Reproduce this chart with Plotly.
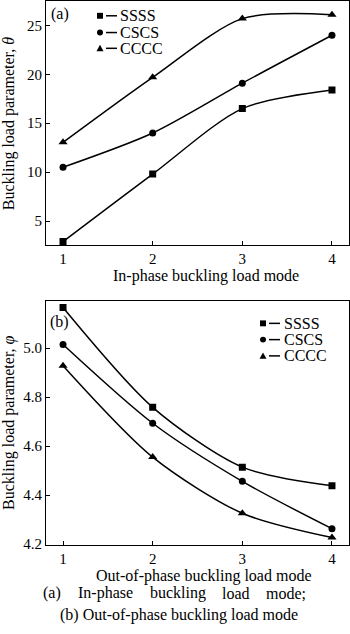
import plotly.graph_objects as go

# Buckling load parameters for each boundary condition
modes = [1, 2, 3, 4]
inphase_ssss = [2.9, 9.8, 16.5, 18.4]
inphase_cscs = [10.5, 14.0, 19.1, 24.0]
inphase_cccc = [13.05, 19.7, 25.7, 26.1]

outphase_ssss = [5.165, 4.758, 4.514, 4.438]
outphase_cscs = [5.014, 4.693, 4.456, 4.263]
outphase_cccc = [4.928, 4.555, 4.326, 4.227]

series_names = ["SSSS", "CSCS", "CCCC"]
symbols = ["square", "circle", "triangle-up"]

W, H = 350, 634
ML, MR = 46, 1
FONT = "Liberation Serif"


def px(x):
    return (x - ML) / (W - ML - MR)


def py(y):
    return 1 - y / H


fig = go.Figure()

top = [inphase_ssss, inphase_cscs, inphase_cccc]
bot = [outphase_ssss, outphase_cscs, outphase_cccc]
msize = [7, 7, 8]

for vals, name, sym, ms in zip(top, series_names, symbols, msize):
    fig.add_trace(go.Scatter(
        x=modes, y=vals, name=name, mode="lines+markers",
        line=dict(color="black", width=1.5, shape="spline", smoothing=0.8),
        marker=dict(symbol=sym, size=ms, color="black"),
        xaxis="x", yaxis="y", showlegend=False))

for vals, name, sym, ms in zip(bot, series_names, symbols, msize):
    fig.add_trace(go.Scatter(
        x=modes, y=vals, name=name, mode="lines+markers",
        line=dict(color="black", width=1.5, shape="spline", smoothing=0.8),
        marker=dict(symbol=sym, size=ms, color="black"),
        xaxis="x2", yaxis="y2", showlegend=False))

axis_common = dict(
    showline=True, linecolor="black", linewidth=1, mirror=True,
    ticks="inside", ticklen=4, tickcolor="black", showgrid=False,
    zeroline=False, tickfont=dict(family=FONT, size=15, color="black"),
)

fig.update_layout(
    width=W, height=H,
    margin=dict(l=ML, r=MR, t=0, b=0),
    paper_bgcolor="white", plot_bgcolor="white",
    font=dict(family=FONT, size=16, color="black"),
    xaxis=dict(domain=[0, 1], anchor="y", range=[0.81, 4.19],
               tickvals=modes, **axis_common),
    yaxis=dict(domain=[py(248), 1], anchor="x", range=[2.5, 27.5],
               tickvals=[5, 10, 15, 20, 25], **axis_common),
    xaxis2=dict(domain=[0, 1], anchor="y2", range=[0.81, 4.19],
                tickvals=modes, **axis_common),
    yaxis2=dict(domain=[py(551.7), py(304)], anchor="x2",
                range=[4.197, 5.193], tickvals=[4.2, 4.4, 4.6, 4.8, 5.0],
                tickformat=".1f", **axis_common),
)

ann = []


def text(x, y, s, xanchor="center", angle=0, size=16):
    ann.append(dict(x=px(x), y=py(y), xref="paper", yref="paper", text=s,
                    showarrow=False, xanchor=xanchor, yanchor="middle",
                    textangle=angle, borderpad=0,
                    font=dict(family=FONT, size=size, color="black")))


# axis titles
text(206, 279, "In-phase buckling load mode")
text(204, 583, "Out-of-phase buckling load mode")
text(9, 124, "Buckling load parameter, <i>θ</i>", angle=-90)
text(9, 428, "Buckling load parameter, <i>φ</i>", angle=-90)

# panel labels
text(59.5, 13, "(a)")
text(59.5, 326, "(b)")

# caption
for word, cx in [("(a)", 51.5), ("In-phase", 105), ("buckling", 177.5),
                 ("load", 235.5), ("mode;", 286)]:
    text(cx, 601, word)
text(178.5, 623, "(b) Out-of-phase buckling load mode")

# legends drawn as shapes + text
shapes = []


def legend(mx, rows, lx0, lx1, tx):
    for (name, sym), ry in zip(zip(series_names, symbols), rows):
        shapes.append(dict(type="line", xref="paper", yref="paper",
                           x0=px(lx0), x1=px(lx1), y0=py(ry), y1=py(ry),
                           line=dict(color="black", width=1.5)))
        r = 3
        if sym == "square":
            shapes.append(dict(type="rect", xref="paper", yref="paper",
                               x0=px(mx - r), x1=px(mx + r),
                               y0=py(ry + r), y1=py(ry - r),
                               fillcolor="black", line=dict(width=0)))
        elif sym == "circle":
            shapes.append(dict(type="circle", xref="paper", yref="paper",
                               x0=px(mx - r), x1=px(mx + r),
                               y0=py(ry + r), y1=py(ry - r),
                               fillcolor="black", line=dict(width=0)))
        else:
            path = "M {},{} L {},{} L {},{} Z".format(
                px(mx - 3.5), py(ry + 3), px(mx + 3.5), py(ry + 3),
                px(mx), py(ry - 3.5))
            shapes.append(dict(type="path", xref="paper", yref="paper",
                               path=path, fillcolor="black",
                               line=dict(width=0)))
        text(tx, ry, name, xanchor="left")


legend(100, [15, 32, 48], 106, 117, 119)
legend(263, [327, 343.5, 360], 269, 280, 283)

fig.update_layout(annotations=ann, shapes=shapes)

fig.write_html("out.html")
